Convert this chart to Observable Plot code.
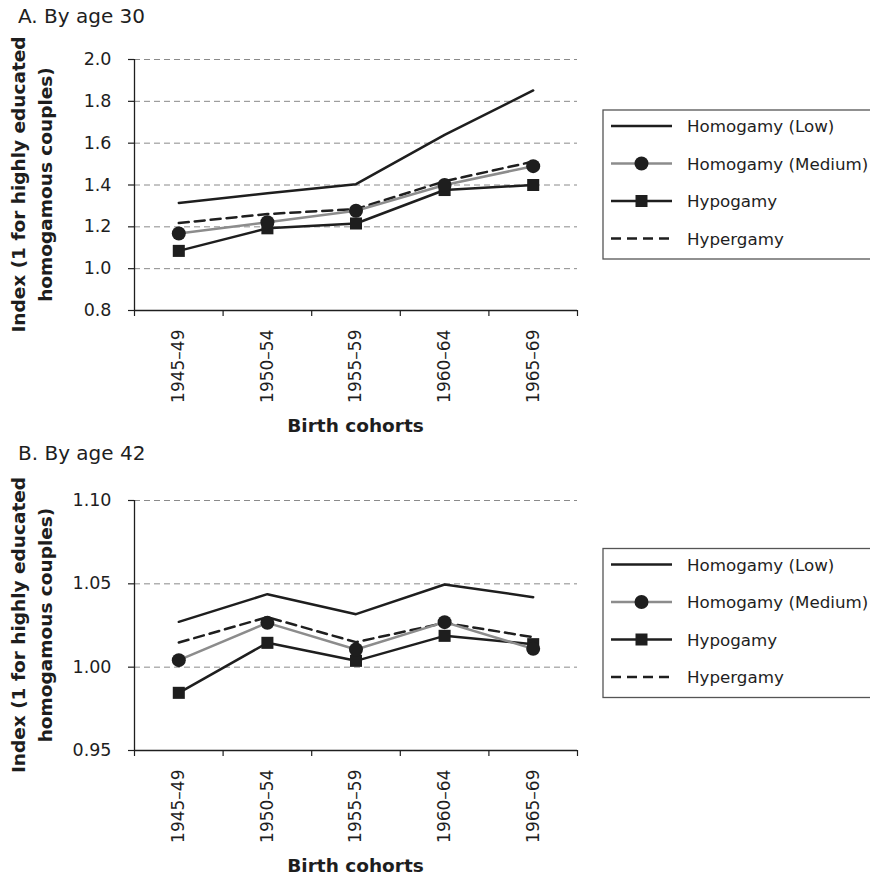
<!DOCTYPE html>
<html>
<head>
<meta charset="utf-8">
<script src="https://cdn.jsdelivr.net/npm/d3@7"></script>
<script src="https://cdn.jsdelivr.net/npm/@observablehq/plot@0.6"></script>
<style>
  html, body { margin: 0; padding: 0; background: #fff; overflow: hidden; }
  #root { position: relative; width: 870px; height: 879px; overflow: hidden; background: #fff; }
  .panel { position: absolute; left: 0; width: 870px; height: 440px; }
  .panel svg { display: block; max-width: none !important; }
</style>
</head>
<body>
<div id="root"></div>
<script>
// ---- Data ----
const cohorts = ["1945–49", "1950–54", "1955–59", "1960–64", "1965–69"];
const seriesNames = ["Homogamy (Low)", "Homogamy (Medium)", "Hypogamy", "Hypergamy"];

// Panel A: By age 30
const lowA   = [1.314, 1.360, 1.404, 1.640, 1.852];
const medA   = [1.168, 1.222, 1.277, 1.400, 1.490];
const hypoA  = [1.085, 1.193, 1.216, 1.376, 1.400];
const hyperA = [1.218, 1.261, 1.285, 1.418, 1.512];
const ticksA = [0.8, 1.0, 1.2, 1.4, 1.6, 1.8, 2.0];

// Panel B: By age 42
const lowB   = [1.0272, 1.0438, 1.0318, 1.0496, 1.0420];
const medB   = [1.0042, 1.0266, 1.0106, 1.0270, 1.0110];
const hypoB  = [0.9846, 1.0146, 1.0038, 1.0188, 1.0138];
const hyperB = [1.0148, 1.0300, 1.0150, 1.0266, 1.0180];
const ticksB = [0.95, 1.00, 1.05, 1.10];

const yLabelLines = ["Index (1 for highly educated", "homogamous couples)"];
const xLabel = "Birth cohorts";

const INK = "#1e1e1e";
const GRAY = "#8c8c8c";
const FONT = "DejaVu Sans";

function panel({title, low, med, hypo, hyper, ticks, fmt, top, marginTop, titleY, legendTop}) {
  const idx = cohorts.map((c, i) => i);
  const bounds = [-0.5, ...idx.map(i => i + 0.5)];
  const rows = s => s.map((v, i) => ({i, v, cohort: cohorts[i]}));
  const domain = [ticks[0], ticks[ticks.length - 1]];

  const plot = Plot.plot({
    width: 870,
    height: 440,
    marginLeft: 134,
    marginRight: 293,
    marginTop,
    marginBottom: 130,
    style: {fontFamily: FONT, fontSize: "17px", color: INK, background: "white", overflow: "visible"},
    x: {domain: [-0.5, cohorts.length - 0.5]},
    y: {domain},
    marks: [
      Plot.gridY({ticks: ticks.slice(1), stroke: "#8a8a8a", strokeOpacity: 1, strokeWidth: 1, strokeDasharray: "6,4"}),
      Plot.axisY({ticks, tickFormat: d3.format(fmt), tickSize: 6, tickPadding: 17, fontSize: 17.5, label: null, strokeWidth: 1.2, stroke: INK, fill: INK}),
      Plot.axisX({ticks: idx, tickFormat: i => cohorts[i], tickSize: 0, tickPadding: 19, tickRotate: -90, fontSize: 17, label: null, fill: INK}),
      Plot.axisX({ticks: bounds, tickFormat: () => "", tickSize: 6, label: null, strokeWidth: 1.2, stroke: INK}),
      Plot.ruleX([-0.5], {stroke: INK, strokeWidth: 1.3}),
      Plot.ruleY([domain[0]], {stroke: INK, strokeWidth: 1.3}),
      Plot.line(rows(low), {x: "i", y: "v", stroke: INK, strokeWidth: 2.5}),
      Plot.line(rows(hyper), {x: "i", y: "v", stroke: INK, strokeWidth: 2.5, strokeDasharray: "10,6"}),
      Plot.line(rows(hypo), {x: "i", y: "v", stroke: INK, strokeWidth: 2.5}),
      Plot.dot(rows(hypo), {x: "i", y: "v", symbol: "square", r: 6.8, fill: INK, stroke: "none"}),
      Plot.line(rows(med), {x: "i", y: "v", stroke: GRAY, strokeWidth: 2.5}),
      Plot.dot(rows(med), {x: "i", y: "v", r: 7, fill: INK, stroke: "none"})
    ]
  });

  const svg = d3.select(plot);
  const plotTop = marginTop, plotBottom = 440 - 130;
  const yc = (plotTop + plotBottom) / 2;
  const xc = (134 + (870 - 293)) / 2;

  // Panel title
  svg.append("text").attr("x", 18).attr("y", titleY).attr("text-anchor", "start")
    .attr("font-family", FONT).attr("font-size", 20).attr("fill", INK).text(title);

  // Y label (two lines, rotated)
  const yl = svg.append("text")
    .attr("transform", `translate(25,${yc}) rotate(-90)`)
    .attr("text-anchor", "middle").attr("font-family", FONT)
    .attr("font-size", 18.5).attr("font-weight", "bold").attr("fill", INK);
  yLabelLines.forEach((t, k) => yl.append("tspan").attr("x", 0).attr("y", k * 27).text(t));

  // X label
  svg.append("text").attr("x", xc).attr("y", 432).attr("text-anchor", "middle")
    .attr("font-family", FONT).attr("font-size", 18.5).attr("font-weight", "bold")
    .attr("fill", INK).text(xLabel);

  // Legend
  const lg = svg.append("g");
  lg.append("rect").attr("x", 603).attr("y", legendTop).attr("width", 320).attr("height", 149)
    .attr("fill", "white").attr("stroke", "#555").attr("stroke-width", 1.3);
  const styles = [
    {stroke: INK, dash: null, marker: null},
    {stroke: GRAY, dash: null, marker: "circle"},
    {stroke: INK, dash: null, marker: "square"},
    {stroke: INK, dash: "10,6", marker: null}
  ];
  seriesNames.forEach((name, k) => {
    const cy = legendTop + 16 + 37.5 * k;
    const st = styles[k];
    lg.append("line").attr("x1", 611).attr("x2", 672).attr("y1", cy).attr("y2", cy)
      .attr("stroke", st.stroke).attr("stroke-width", 2.5)
      .attr("stroke-dasharray", st.dash);
    if (st.marker === "circle") {
      lg.append("circle").attr("cx", 641.5).attr("cy", cy).attr("r", 7).attr("fill", INK);
    } else if (st.marker === "square") {
      lg.append("rect").attr("x", 641.5 - 6).attr("y", cy - 6).attr("width", 12).attr("height", 12).attr("fill", INK);
    }
    lg.append("text").attr("x", 687).attr("y", cy + 6).attr("text-anchor", "start")
      .attr("font-family", FONT).attr("font-size", 16.7).attr("fill", INK).text(name);
  });

  const div = document.createElement("div");
  div.className = "panel";
  div.style.top = top + "px";
  div.appendChild(plot);
  document.getElementById("root").appendChild(div);
}

panel({title: "A. By age 30", low: lowA, med: medA, hypo: hypoA, hyper: hyperA,
       ticks: ticksA, fmt: ".1f", top: 0, marginTop: 59, titleY: 23, legendTop: 110});
panel({title: "B. By age 42", low: lowB, med: medB, hypo: hypoB, hyper: hyperB,
       ticks: ticksB, fmt: ".2f", top: 440, marginTop: 60, titleY: 20, legendTop: 108.5});
</script>
</body>
</html>
